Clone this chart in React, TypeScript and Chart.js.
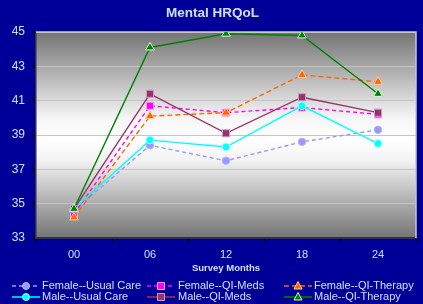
import React, { useEffect, useRef } from "react";
import { Chart, registerables } from "chart.js";

Chart.register(...registerables);

const months = ["00", "06", "12", "18", "24"];
const femaleUsualCare = [34.6, 38.4, 37.5, 38.6, 39.3];
const femaleQIMeds = [34.4, 40.7, 40.3, 40.6, 40.2];
const femaleQITherapy = [34.2, 40.1, 40.3, 42.5, 42.1];
const maleUsualCare = [34.7, 38.7, 38.3, 40.7, 38.5];
const maleQIMeds = [34.7, 41.4, 39.1, 41.2, 40.3];
const maleQITherapy = [34.7, 44.1, 44.9, 44.8, 41.4];

const TXT = "#CCE0FF";
const FONT = "'Liberation Sans', Arial, sans-serif";

export default function App() {
  const ref = useRef<HTMLCanvasElement | null>(null);

  useEffect(() => {
    document.body.style.margin = "0";
    const canvas = ref.current!;
    const mk = (
      label: string,
      data: number[],
      color: string,
      dash: number[],
      style: string,
      fill: string,
      border: string,
      radius: number,
      order: number
    ) => ({
      label,
      data,
      borderColor: color,
      backgroundColor: fill,
      borderWidth: 1.4,
      borderDash: dash,
      pointStyle: style,
      pointRadius: radius,
      pointBackgroundColor: fill,
      pointBorderColor: border,
      pointBorderWidth: 1,
      tension: 0,
      order,
    });

    const datasets = [
      mk("Female--Usual Care", femaleUsualCare, "#9999FF", [4, 3], "circle", "#9999FF", "#B8B8FF", 3.8, 6),
      mk("Female--QI-Meds", femaleQIMeds, "#FF00FF", [4, 3], "rect", "#FF00FF", "#FF99FF", 5, 5),
      mk("Female--QI-Therapy", femaleQITherapy, "#FF6600", [5, 3], "triangle", "#FF6600", "#FFCC99", 5, 4),
      mk("Male--Usual Care", maleUsualCare, "#00FFFF", [], "circle", "#00FFFF", "#99FFFF", 3.8, 3),
      mk("Male--QI-Meds", maleQIMeds, "#993366", [], "rect", "#993366", "#CC99CC", 5, 2),
      mk("Male--QI-Therapy", maleQITherapy, "#008000", [], "triangle", "#008000", "#CCFFCC", 5, 1),
    ];

    const bgPlugin = {
      id: "bg",
      beforeDraw(chart: any) {
        const { ctx, chartArea: a, width, height } = chart;
        ctx.save();
        ctx.fillStyle = "#000099";
        ctx.fillRect(0, 0, width, height);
        const g = ctx.createLinearGradient(0, a.top, 0, a.bottom);
        g.addColorStop(0, "#747474");
        g.addColorStop(0.42, "#f6f6f6");
        g.addColorStop(0.52, "#ffffff");
        g.addColorStop(0.62, "#f4f4f4");
        g.addColorStop(1, "#747474");
        ctx.fillStyle = g;
        ctx.fillRect(a.left, a.top, a.right - a.left, a.bottom - a.top);
        ctx.restore();
      },
      beforeDatasetsDraw(chart: any) {
        const { ctx, chartArea: a } = chart;
        ctx.save();
        ctx.strokeStyle = "#c8c8c8";
        ctx.lineWidth = 1.5;
        ctx.beginPath();
        ctx.moveTo(a.left, a.top);
        ctx.lineTo(a.right, a.top);
        ctx.lineTo(a.right, a.bottom);
        ctx.stroke();
        ctx.restore();
      },
    };

    const legendPlugin = {
      id: "customLegend",
      afterDraw(chart: any) {
        const { ctx } = chart;
        const lineX = [12, 147, 284];
        const textX = [42, 178, 314];
        const rowY = [286, 297];
        ctx.save();
        chart.data.datasets.forEach((ds: any, i: number) => {
          const col = i % 3;
          const row = Math.floor(i / 3);
          const x0 = lineX[col];
          const y = rowY[row];
          ctx.strokeStyle = ds.borderColor;
          ctx.lineWidth = 1.5;
          ctx.setLineDash(ds.borderDash);
          ctx.beginPath();
          ctx.moveTo(x0, y);
          ctx.lineTo(x0 + 28, y);
          ctx.stroke();
          ctx.setLineDash([]);
          const cx = x0 + 14;
          ctx.fillStyle = ds.pointBackgroundColor;
          ctx.strokeStyle = ds.pointBorderColor;
          ctx.lineWidth = 1;
          ctx.beginPath();
          if (ds.pointStyle === "circle") {
            ctx.arc(cx, y, 3.5, 0, Math.PI * 2);
          } else if (ds.pointStyle === "rect") {
            ctx.rect(cx - 3.5, y - 3.5, 7, 7);
          } else {
            ctx.moveTo(cx, y - 4.5);
            ctx.lineTo(cx + 4, y + 3);
            ctx.lineTo(cx - 4, y + 3);
            ctx.closePath();
          }
          ctx.fill();
          ctx.stroke();
          ctx.fillStyle = TXT;
          ctx.font = `11px ${FONT}`;
          ctx.textBaseline = "middle";
          ctx.textAlign = "left";
          ctx.fillText(ds.label, textX[col], y);
        });
        ctx.restore();
      },
    };

    const chart = new Chart(canvas, {
      type: "line",
      data: { labels: months, datasets: datasets as any },
      plugins: [bgPlugin, legendPlugin],
      options: {
        animation: false,
        responsive: false,
        maintainAspectRatio: false,
        layout: { padding: { left: 9, right: 7, top: 0, bottom: 26 } },
        plugins: {
          legend: { display: false },
          tooltip: { enabled: false },
          title: {
            display: true,
            text: "Mental HRQoL",
            color: TXT,
            font: { family: FONT, size: 13.5, weight: "bold" },
            padding: { top: 5, bottom: 10.8 },
          },
        },
        scales: {
          x: {
            offset: true,
            grid: {
              offset: true,
              drawOnChartArea: false,
              tickLength: 4,
              tickColor: "#000000",
              tickWidth: 1.5,
            },
            border: { color: "#333333", width: 2 },
            ticks: {
              color: TXT,
              font: { family: FONT, size: 11 },
              padding: 6,
              maxRotation: 0,
            },
            title: {
              display: true,
              text: "Survey Months",
              color: TXT,
              font: { family: FONT, size: 9.5, weight: "bold" },
              padding: { top: 0, bottom: 4 },
            },
            afterFit(scale: any) {
              scale.height = 40;
            },
          },
          y: {
            min: 33,
            max: 45,
            ticks: {
              stepSize: 2,
              color: TXT,
              font: { family: FONT, size: 12 },
              padding: 7,
            },
            grid: {
              color: "#c4c4c4",
              lineWidth: 1,
              tickLength: 4,
              tickColor: "#000000",
              tickWidth: 1.5,
            },
            border: { color: "#333333", width: 1.5 },
            afterFit(scale: any) {
              scale.width = 27;
            },
          },
        },
      },
    });
    return () => chart.destroy();
  }, []);

  return (
    <div style={{ width: 423, height: 304 }}>
      <canvas ref={ref} width={423} height={304} style={{ display: "block" }} />
    </div>
  );
}
